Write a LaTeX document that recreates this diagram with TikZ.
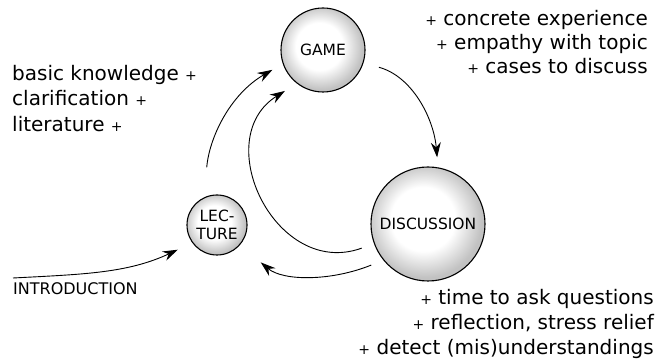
\documentclass[tikz,border=0pt]{standalone}
\usepackage{fontspec}
\setmainfont{DejaVu Sans}
\usepackage{xcolor}
\usetikzlibrary{arrows.meta, positioning}

\colorlet{rimgray}{black!24}
\pgfdeclareradialshading{glassball}{\pgfpoint{-3bp}{3bp}}{color(0bp)=(white); color(14bp)=(white); color(25bp)=(rimgray); color(50bp)=(rimgray)}
\newcommand{\plusmark}{{\fontsize{14}{14}\selectfont +}}

\begin{document}
\begin{tikzpicture}[x=1pt, y=1pt,
    stage/.style={circle, draw=black, line width=1.1pt, shading=glassball,
        inner sep=0pt, text=black, font=\fontsize{15.5}{18}\selectfont},
    note/.style={inner sep=0pt, font=\fontsize{20}{24}\selectfont},
    flow/.style={line width=0.9pt, -{Stealth[length=15pt, width=10pt, inset=5pt]}}]
    \useasboundingbox (0,0) rectangle (670,364);
    % the three stages
    \node[stage,
        minimum size=84pt
        ] (game) at (323,314) {GAME};
    \node[stage,
        minimum size=114pt
        ] (disc) at (428,140) {DISCUSSION};
    \node[stage,
        minimum size=60pt,
        align=center
        ] (lec) at (217,139) {LEC-\\TURE};
    % what each stage brings
    \node[note, anchor=base east] (concrete) at (648,338) {\plusmark{} concrete experience};
    \node[note, anchor=base east] (empathy) at ([yshift=-24pt]concrete.base east) {\plusmark{} empathy with topic};
    \node[note, anchor=base east] (cases) at ([yshift=-24pt]empathy.base east) {\plusmark{} cases to discuss};
    \node[note, anchor=base west] (basic) at (12,283) {basic knowledge \plusmark};
    \node[note, anchor=base west] (clarify) at ([yshift=-25pt]basic.base west) {clarification \plusmark};
    \node[note, anchor=base west] (lit) at ([yshift=-26pt]clarify.base west) {literature \plusmark};
    \node[note, anchor=base east] (ask) at (654,59) {\plusmark{} time to ask questions};
    \node[note, anchor=base east] (reflect) at ([yshift=-25pt]ask.base east) {\plusmark{} reflection, stress relief};
    \node[note, anchor=base east] (detect) at ([yshift=-25pt]reflect.base east) {\plusmark{} detect (mis)understandings};
    % entry
    \coordinate (introstart) at (13,86);
    \node[inner sep=0pt,
        anchor=north west,
        font=\fontsize{16}{16}\selectfont
        ] (intro) at ([yshift=-4pt]introstart) {INTRODUCTION};

    % the cycle
    \draw[flow, shorten >=16pt] (introstart) to[out=3, in=205] (lec.216);
    \draw[flow, shorten <=30pt, shorten >=12pt] (lec.115) to[out=85, in=210] (game.199);
    \draw[flow, shorten <=16pt, shorten >=10pt] (game.-18) to[out=-15, in=95] (disc.80);
    \draw[flow, shorten <=13pt, shorten >=14pt] (disc.200) to[out=200, in=212, looseness=1.5] (game.232);
    \draw[flow, shorten <=13pt, shorten >=27pt] (disc.219) to[out=202, in=-40] (lec.-41);
\end{tikzpicture}
\end{document}
